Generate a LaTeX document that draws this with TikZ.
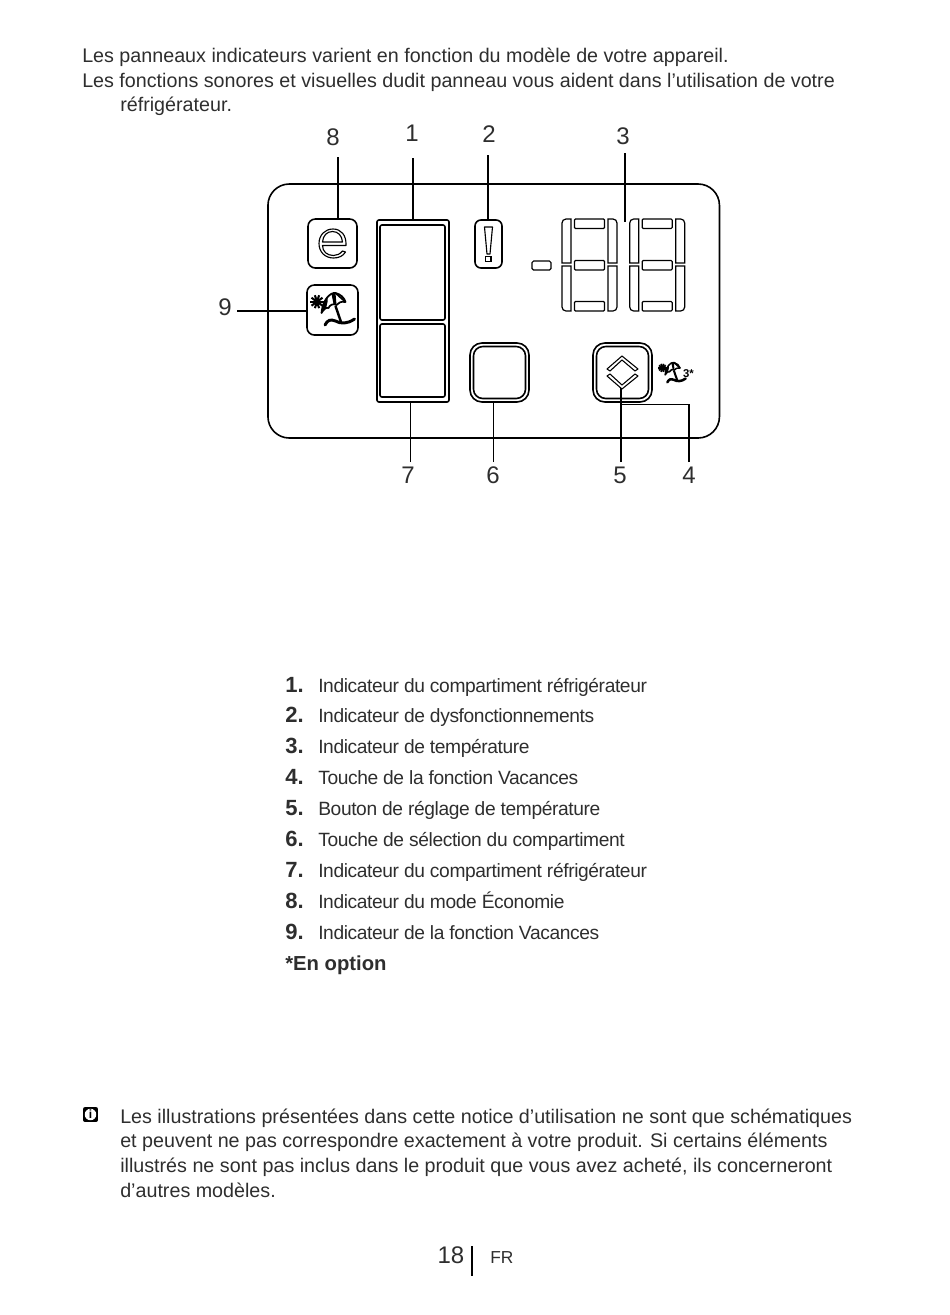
\documentclass[tikz,border=0pt]{standalone}
\usepackage{fontspec}
\setmainfont{Liberation Sans}
\definecolor{ink}{gray}{.18}
\tikzset{
  txt/.style={anchor=base west,inner sep=0pt,text=ink,font=\fontsize{14.78}{16}\selectfont},
  itm/.style={anchor=base west,inner sep=0pt,text=ink,font=\fontsize{14.4}{16}\selectfont\addfontfeature{LetterSpace=-2}},
  numb/.style={anchor=base west,inner sep=0pt,text=ink,font=\fontsize{16.5}{17}\selectfont\bfseries},
  callout/.style={inner sep=0pt,text=ink,font=\fontsize{18}{20}\selectfont},
  rbox/.style 2 args={draw,line width=1.2pt,rounded corners=5.5pt,inner sep=0pt,minimum width=#1*.75pt,minimum height=#2*.75pt},
  lead/.style={line width=1pt},
  seg/.style={line width=.9pt}
}
\newcommand{\parasol}[3]{%
\begin{scope}[shift={#1},scale=#2]
\foreach \a in {0,36,...,324}{\draw[line width=1.2*#3] (-15.5,-8.3)--+(\a:6.8);}
\fill (-15.5,-8.3) circle (3);
\draw[line width=#3,fill=white,line join=round] (-11,3).. controls (-10,-10) and (-2,-18) .. (3,-17).. controls (8,-16) and (12,-12) .. (13,-8).. controls (8,-9) and (6,-7) .. (4,-5).. controls (1,-7) and (-3,-5) .. (-4,-2).. controls (-6,-3) and (-9,-1) .. (-11,3)--cycle;
\fill (-11,3).. controls (-10,-6) and (-8,-11) .. (-5,-14)--(-5,-8)--(-6.5,-1.5)--cycle;
\fill (-1,-16)--(3,-17)--(4,-5)--(1,-6)--cycle;
\draw[line width=#3] (3,-17)--(13,-8);
\draw[line width=1.4*#3] (3,-4)--(8.5,12);
\draw[line width=1.7*#3,line cap=round] (-7.5,15).. controls (-5,10) and (-2,9) .. (3,11).. controls (8,14) and (15,14) .. (22,9);
\end{scope}}
\begin{document}
\begin{tikzpicture}[x=.75pt,y=-.75pt]
\useasboundingbox (0,0) rectangle (950,1315);
\node[txt] (top1) at (82,62) {Les panneaux indicateurs varient en fonction du modèle de votre appareil.};
\node[txt] (top2) at (82,87) {Les fonctions sonores et visuelles dudit panneau vous aident dans l’utilisation de votre};
\node[txt] (top3) at (120,111) {réfrigérateur.};
% panel
\node[rbox={451.5}{254},rounded corners=16pt] (panel) at (493.7,311) {};
\node[rbox={49}{49}] (ebox) at (332.5,243.5) {};
\node[rbox={51}{50}] (beach) at (332.5,310) {};
\node[rbox={72}{182},rounded corners=1.5pt] (door) at (413,311) {};
\node[rbox={65}{95},rounded corners=1.5pt] (fridge) at (412.5,272.5) {};
\node[rbox={65}{73},rounded corners=1.5pt] (freezer) at (412.5,360.5) {};
\node[rbox={27}{48},rounded corners=4.5pt] (warn) at (488.5,244) {};
\node[rbox={59}{59},rounded corners=9pt] (sel) at (499.5,372.5) {};
\node[rbox={52}{52},rounded corners=7pt] (selin) at (499.5,372.5) {};
\node[rbox={59}{59},rounded corners=9pt] (adj) at (622.5,372.5) {};
\node[rbox={52}{52},rounded corners=7pt] (adjin) at (622.5,372.5) {};
\node[rbox={19}{9},rounded corners=1.2pt,line width=.9pt] (minus) at (541.5,265.5) {};
% e
\draw[line width=.85pt,line join=round] (346,245.5).. controls (346.5,235) and (341,229) .. (333,229).. controls (325,229) and (319,235) .. (319,243.5).. controls (319,252) and (325,258) .. (333.5,258).. controls (339,258) and (343,256) .. (345.5,252)--(342.5,251).. controls (340,254) and (337,255.5) .. (333.5,255.5).. controls (327,255.5) and (322.5,251.5) .. (322.5,245.5)--cycle;
\draw[line width=.85pt,line join=round] (322.5,242)--(342.5,242).. controls (342,235.5) and (338,231.5) .. (332.5,231.5).. controls (327,231.5) and (323,235.5) .. (322.5,242)--cycle;
% !
\draw[line width=.85pt,line join=round] (484.5,227)--(492.5,227)--(490,254)--(487,254)--cycle;
\draw[line width=.85pt] (485.5,256.5) rectangle (491,261.5);
% digits
\foreach \d in {0,67.7}{
\begin{scope}[xshift=\d*.75pt]
\draw[seg] (571,263)--(571,219)[rounded corners=3pt]--(562,219)[sharp corners]--(562,263)--cycle;
\draw[seg] (571,266)--(571,311)[rounded corners=3pt]--(562,311)[sharp corners]--(562,266)--cycle;
\draw[seg] (608,263)--(608,219)[rounded corners=3pt]--(617,219)[sharp corners]--(617,263)--cycle;
\draw[seg] (608,266)--(608,311)[rounded corners=3pt]--(617,311)[sharp corners]--(617,266)--cycle;
\foreach \y in {219,260.5,301.5}{\draw[line width=.9pt,rounded corners=.8pt] (574.5,\y) rectangle (604.5,\y+9.5);}
\end{scope}}
% chevrons
\draw[line width=.8pt,line join=round] (607,369)--(622,356)--(638,369)--(635,371)--(622,360)--(610,371)--cycle;
\draw[line width=.8pt,line join=round] (607,376)--(622,389)--(638,376)--(635,374)--(622,385)--(610,374)--cycle;
\parasol{(332.5,310)}{1}{1.3pt}
\parasol{(672,373)}{.62}{1.1pt}
\node[inner sep=0pt,font=\fontsize{8.5}{9}\selectfont\bfseries] (three) at (688.5,373.5) {3*};
% labels
\foreach \n/\x/\y in {8/333/137,1/412/133,2/489/134,3/623/136,9/225/307,7/408/475,6/493/475,5/620/475,4/689/475}{
\node[callout] (lab\n) at (\x,\y) {\n};}
\coordinate (end8) at (338,157);
\coordinate (end1) at (413,158);
\coordinate (end2) at (488,155);
\coordinate (end3) at (625,153);
\coordinate (in3) at (625,222);
\coordinate (end9) at (237,311);
\coordinate (end7) at (410.5,462);
\coordinate (end6) at (493.5,462);
\coordinate (end5) at (621,462);
\coordinate (end4) at (689,462);
\coordinate (in5) at (621,388);
\coordinate (in4) at (621,404.5);
\draw[lead] (end8)--(end8 |- ebox.north);
\draw[lead,line width=1.5pt] (end1)--(end1 |- door.north);
\draw[lead] (end2)--(end2 |- warn.north);
\draw[lead] (end3)--(in3);
\draw[lead,line width=1.4pt] (end9)--(end9 -| beach.west);
\draw[lead] (end7)--(end7 |- door.south);
\draw[lead] (end6)--(end6 |- sel.south);
\draw[lead,line width=1.5pt] (end5)--(in5);
\draw[lead] (end4)--(end4 |- in4)--(in4);
% list
\foreach \t [count=\k] in {Indicateur du compartiment réfrigérateur,Indicateur de dysfonctionnements,Indicateur de température,Touche de la fonction Vacances,Bouton de réglage de température,Touche de sélection du compartiment,Indicateur du compartiment réfrigérateur,Indicateur du mode Économie,Indicateur de la fonction Vacances}{
\node[numb] (num\k) at (285,{661.1+30.9*\k}) {\k.};
\node[itm] (item\k) at (318,{661.1+30.9*\k}) {\t};}
\node[numb,font=\fontsize{15.2}{16}\selectfont\bfseries] (opt) at (285,970) {*En option};
% note
\node[fill=black,rounded corners=1.5pt,inner sep=0pt,minimum width=11.2pt,minimum height=11.2pt] (info) at (90.5,1114.5) {};
\node[circle,fill=white,inner sep=0pt,minimum size=8.6pt,font=\fontsize{9}{9}\selectfont\bfseries] (infoi) at (info) {i};
\node[txt] (note1) at (120,1123) {Les illustrations présentées dans cette notice d’utilisation ne sont que schématiques};
\node[txt] (note2) at (120,1147) {et peuvent ne pas correspondre exactement à votre produit. Si certains éléments};
\node[txt] (note3) at (120,1172) {illustrés ne sont pas inclus dans le produit que vous avez acheté, ils concerneront};
\node[txt] (note4) at (120,1197) {d’autres modèles.};
% footer
\node[callout] (page) at (451,1255) {18};
\coordinate (bar1) at (472,1246);
\coordinate (bar2) at (472,1276);
\draw[line width=1.5pt] (bar1)--(bar2);
\node[txt,font=\fontsize{13}{14}\selectfont] (lang) at (490,1263) {FR};
\end{tikzpicture}
\end{document}
